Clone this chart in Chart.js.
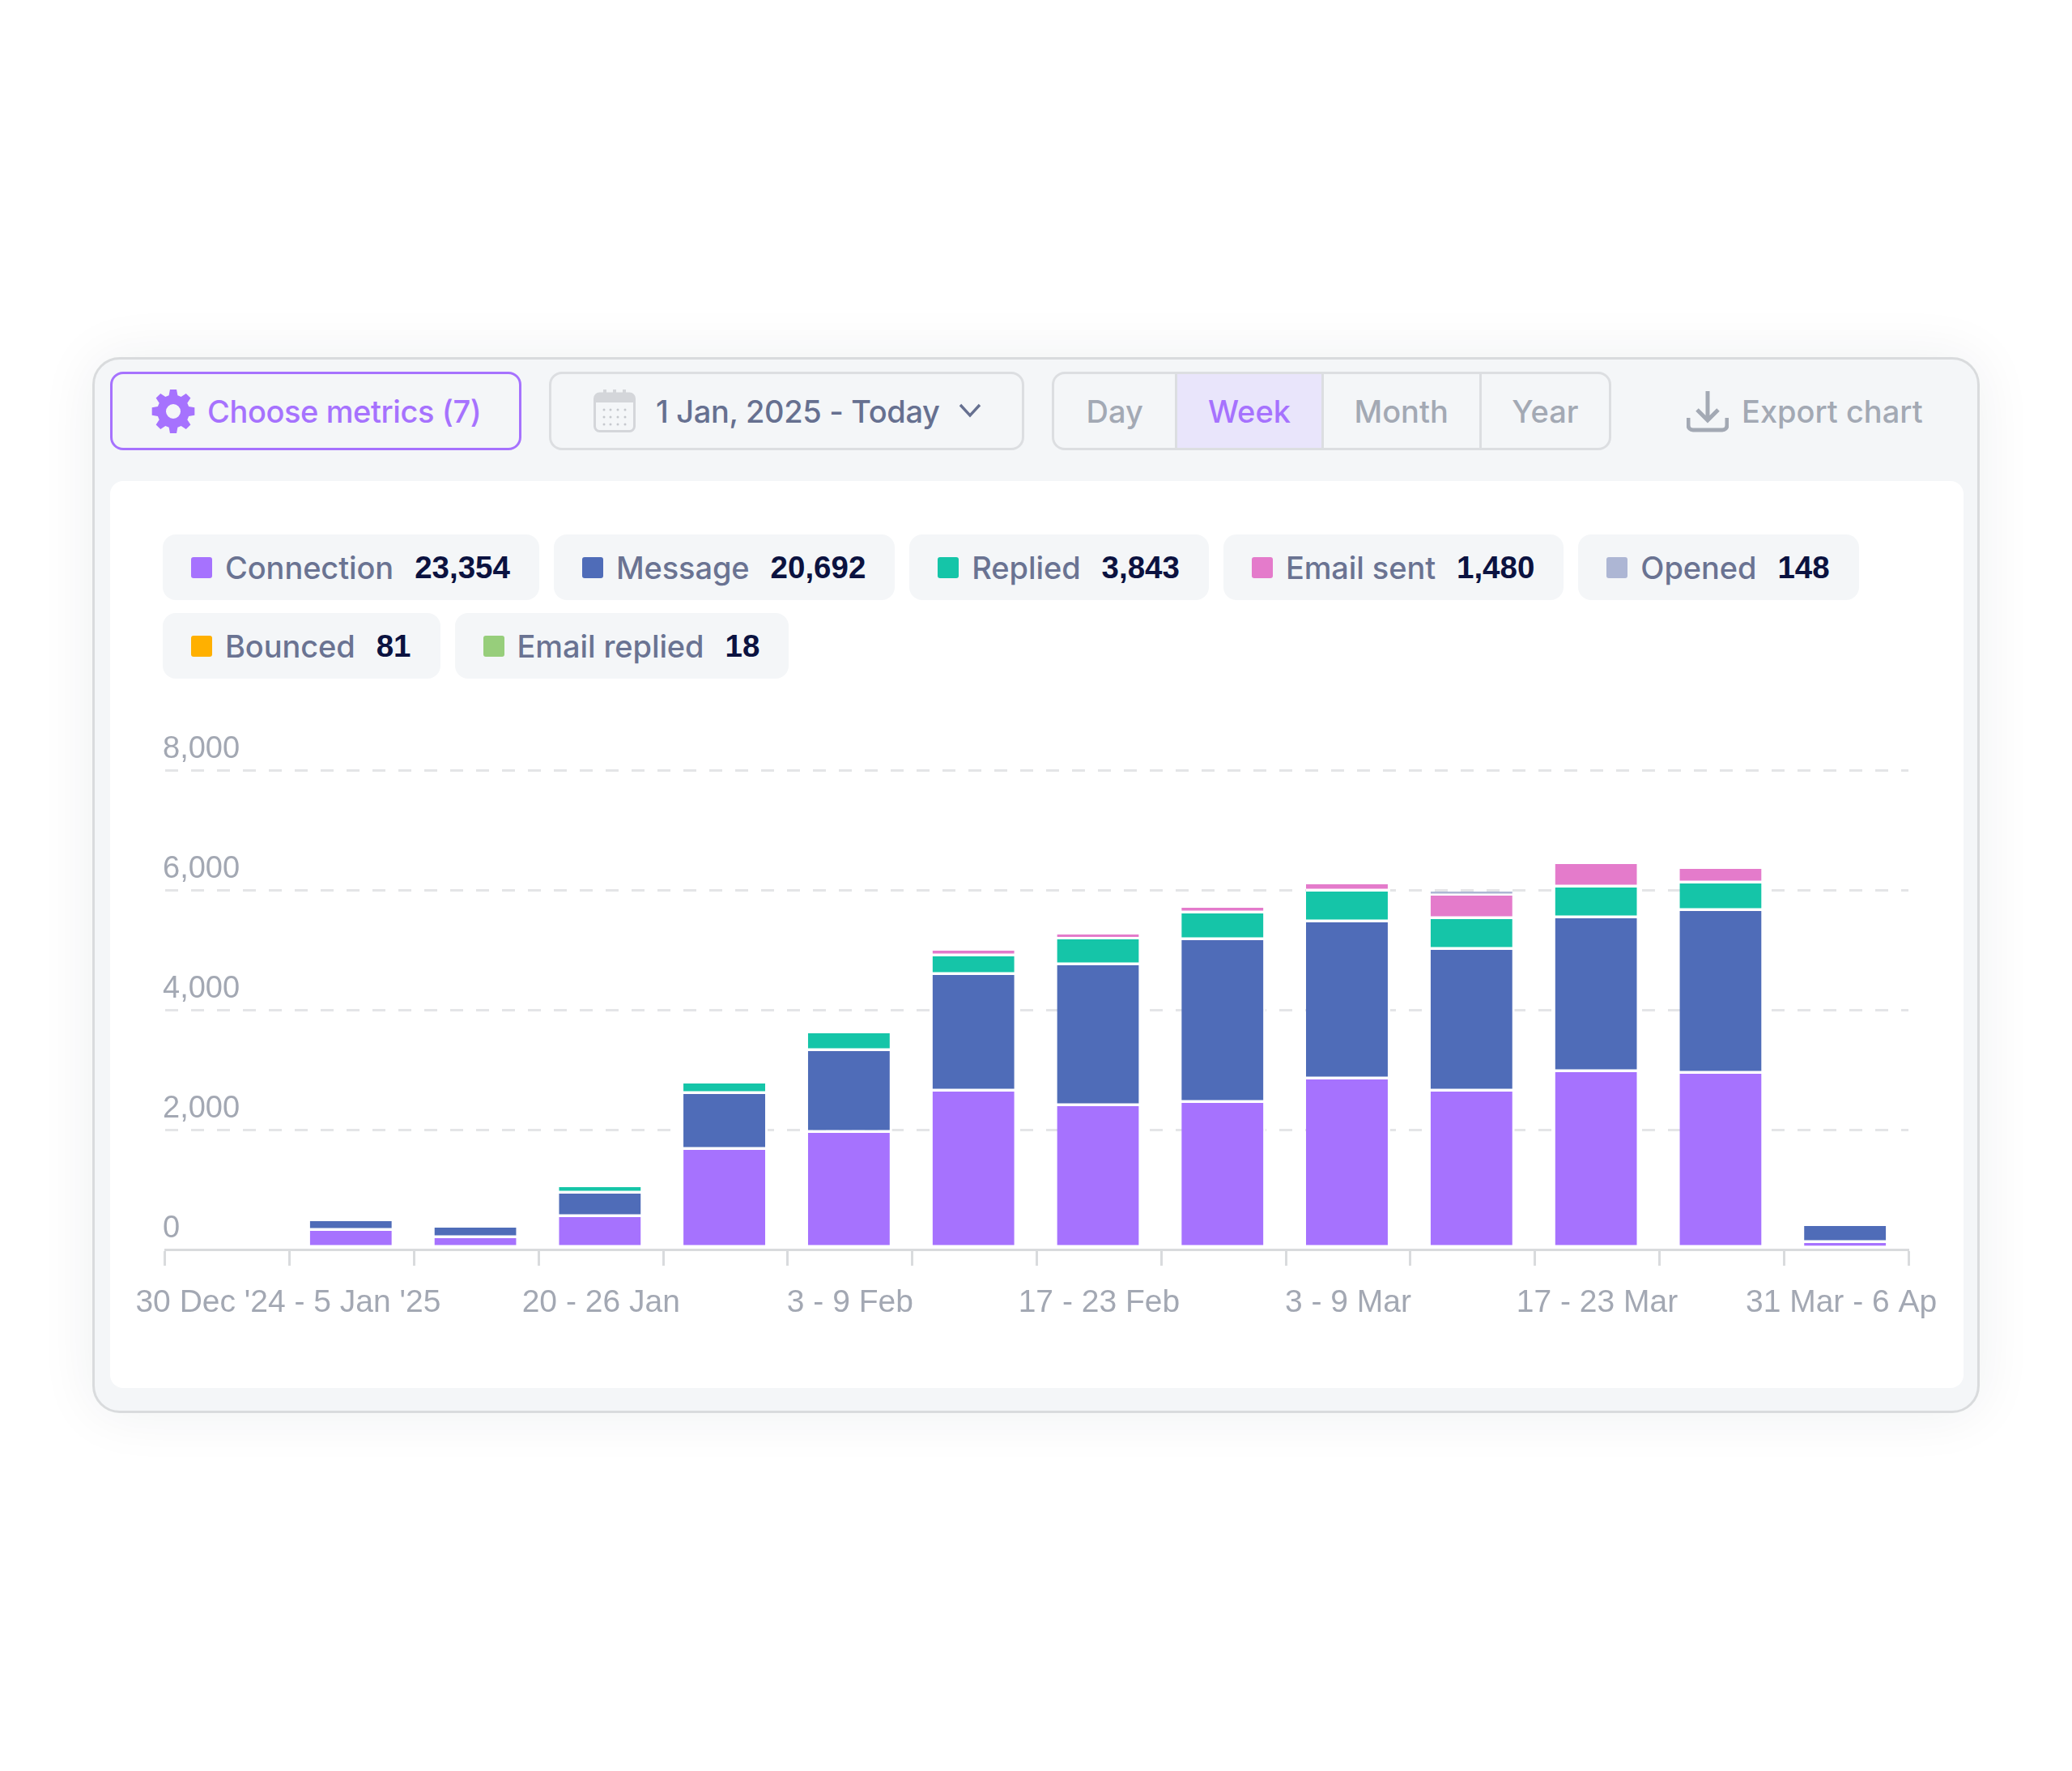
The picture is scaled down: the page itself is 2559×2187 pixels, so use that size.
<!DOCTYPE html>
<html>
<head>
<meta charset="utf-8">
<title>Campaign metrics</title>
<script src="https://cdn.jsdelivr.net/npm/chart.js@4"></script>
<style>
  html, body { margin: 0; padding: 0; background: #fff; }
  body { position: relative; width: 2559px; height: 2187px; overflow: hidden; font-family: Inter, sans-serif; }
  .abs { position: absolute; box-sizing: border-box; }
  #card { left: 114px; top: 441px; width: 2331px; height: 1304px; background: #f4f6f8; border: 3px solid #d9dbdd; border-radius: 34px; box-shadow: 0 0 70px rgba(30, 40, 60, .07); }
  #panel { left: 136px; top: 594px; width: 2289px; height: 1120px; background: #fff; border-radius: 16px; }
  .btn { top: 459px; height: 97px; border: 3px solid #dcdee1; border-radius: 16px; display: flex; align-items: center; font-size: 38px; font-weight: 500; white-space: nowrap; }
  #metrics { left: 136px; width: 508px; border-color: #a672fe; color: #a672fe; padding-left: 117px; letter-spacing: -0.4px; }
  #range { left: 678px; width: 587px; color: #667090; padding-left: 129px; letter-spacing: -0.35px; }
  #seg { left: 1299px; width: 691px; padding: 0; color: #a3a9b4; overflow: hidden; }
  #seg div { height: 100%; display: flex; align-items: center; justify-content: center; box-sizing: border-box; }
  #seg div + div { border-left: 3px solid #dcdee1; }
  #seg .on { background: #e9e5fb; color: #a672fe; }
  #export { left: 2151px; top: 459px; height: 97px; display: flex; align-items: center; font-size: 38px; font-weight: 500; color: #a3a9b4; white-space: nowrap; }
  #chips { left: 201px; top: 660px; width: 2150px; display: flex; flex-wrap: wrap; gap: 16px 18px; }
  .chip { height: 81px; padding: 0 36px 0 35px; background: #f4f6f8; border-radius: 16px; display: flex; align-items: center; font-size: 38px; font-weight: 500; color: #6a7392; white-space: nowrap; letter-spacing: -0.1px; }
  .chip i { width: 26px; height: 26px; margin-right: 16px; border-radius: 3px; display: block; }
  .chip b { margin-left: 26px; font-family: 'Liberation Sans', sans-serif; font-size: 38.5px; font-weight: 700; color: #0b1240; letter-spacing: 0; }
  canvas { position: absolute; left: 137px; top: 860px; }
</style>
</head>
<body>
<div id="card" class="abs"></div>
<div id="panel" class="abs"></div>

<div id="metrics" class="abs btn">Choose metrics (7)</div>
<svg class="abs" style="left:187px;top:481px" width="54" height="54" viewBox="0 0 24 24"><path fill="#a672fe" fill-rule="evenodd" d="M10.2 0h3.6l.6 3.2 1.9.8 2.7-1.8 2.5 2.5-1.8 2.7.8 1.9 3.2.6v4.2l-3.2.6-.8 1.9 1.8 2.7-2.5 2.5-2.7-1.8-1.9.8-.6 3.2h-3.6l-.6-3.2-1.9-.8-2.7 1.8-2.5-2.5 1.8-2.7-.8-1.9-3.2-.6V9.9l3.2-.6.8-1.9-1.8-2.7 2.5-2.5 2.7 1.8 1.9-.8zM12 8a4 4 0 1 0 0 8 4 4 0 0 0 0-8z"/></svg>

<div id="range" class="abs btn">1 Jan, 2025 - Today</div>
<svg class="abs" style="left:733px;top:480px" width="52" height="54" viewBox="0 0 52 54"><rect x="1.5" y="6" width="49" height="46.5" rx="6" fill="#f4f6f8" stroke="#d4d6da" stroke-width="3"/><path d="M2 12a6 6 0 0 1 6-6h36a6 6 0 0 1 6 6v5H2z" fill="#d4d6da"/><rect x="12" y="1" width="4" height="9" fill="#d4d6da"/><rect x="24" y="1" width="4" height="9" fill="#d4d6da"/><rect x="36" y="1" width="4" height="9" fill="#d4d6da"/><g fill="#c6c9ce"><circle cx="13" cy="26" r="1.5"/><circle cx="21" cy="26" r="1.5"/><circle cx="30" cy="26" r="1.5"/><circle cx="39" cy="26" r="1.5"/><circle cx="13" cy="35" r="1.5"/><circle cx="21" cy="35" r="1.5"/><circle cx="30" cy="35" r="1.5"/><circle cx="39" cy="35" r="1.5"/><circle cx="13" cy="44" r="1.5"/><circle cx="21" cy="44" r="1.5"/><circle cx="30" cy="44" r="1.5"/><circle cx="39" cy="44" r="1.5"/></g></svg>
<svg class="abs" style="left:1184px;top:496px" width="28" height="22" viewBox="0 0 28 22"><path d="M2 4l12 13L26 4" fill="none" stroke="#667090" stroke-width="3.4"/></svg>

<div id="seg" class="abs btn">
  <div style="width:150px">Day</div>
  <div class="on" style="width:181px">Week</div>
  <div style="width:196px">Month</div>
  <div style="width:161px">Year</div>
</div>

<svg class="abs" style="left:2083px;top:482px" width="52" height="52" viewBox="0 0 52 52"><path d="M26 1v35M13 24l13 13 13-13" fill="none" stroke="#a3a9b4" stroke-width="5"/><path d="M2 34v9a6 6 0 0 0 6 6h36a6 6 0 0 0 6-6v-9" fill="none" stroke="#a3a9b4" stroke-width="5"/></svg>
<div id="export" class="abs">Export chart</div>

<div id="chips" class="abs"></div>

<canvas id="chart" width="2287" height="854"></canvas>

<script>
const weeks = ["30 Dec '24 - 5 Jan '25", '6 - 12 Jan', '13 - 19 Jan', '20 - 26 Jan', '27 Jan - 2 Feb', '3 - 9 Feb', '10 - 16 Feb', '17 - 23 Feb', '24 Feb - 2 Mar', '3 - 9 Mar', '10 - 16 Mar', '17 - 23 Mar', '24 - 30 Mar', '31 Mar - 6 Apr'];
const tickLabels = ["30 Dec '24 - 5 Jan '25", '', '', '20 - 26 Jan', '', '3 - 9 Feb', '', '17 - 23 Feb', '', '3 - 9 Mar', '', '17 - 23 Mar', '', '31 Mar - 6 Ap'];

const connection = [0, 311, 189, 541, 1662, 1946, 2635, 2392, 2446, 2838, 2635, 2959, 2932, 108];
const message = [0, 162, 176, 391, 933, 1365, 1946, 2351, 2716, 2621, 2365, 2568, 2717, 284];
const replied = [0, 0, 0, 109, 175, 297, 311, 433, 446, 514, 514, 514, 459, 0];
const emailSent = [0, 0, 0, 0, 0, 0, 94, 81, 95, 122, 391, 391, 243, 0];
const opened = [0, 0, 0, 0, 0, 0, 0, 0, 0, 0, 68, 0, 0, 0];
const bounced = [0, 0, 0, 0, 0, 0, 0, 0, 0, 0, 0, 0, 0, 0];
const emailReplied = [0, 0, 0, 0, 0, 0, 0, 0, 0, 0, 0, 0, 0, 0];

const seriesNames = ['Connection', 'Message', 'Replied', 'Email sent', 'Opened', 'Bounced', 'Email replied'];
const seriesTotals = ['23,354', '20,692', '3,843', '1,480', '148', '81', '18'];
const seriesColors = ['#a672fe', '#4f6cb8', '#15c5a8', '#e47bcb', '#adb6d4', '#ffb000', '#97ce7b'];
const seriesValues = [connection, message, replied, emailSent, opened, bounced, emailReplied];

const yTicks = [0, 2000, 4000, 6000, 8000];

// legend chips above the chart
const chips = document.getElementById('chips');
seriesNames.forEach((name, i) => {
  const chip = document.createElement('div');
  chip.className = 'chip';
  const swatch = document.createElement('i');
  swatch.style.background = seriesColors[i];
  const value = document.createElement('b');
  value.textContent = seriesTotals[i];
  chip.append(swatch, name, value);
  chips.appendChild(chip);
});

// first and last tick labels sit off their bar centre in the original
const shiftLabels = {
  id: 'shiftLabels',
  beforeDraw(chart) {
    const items = chart.scales.x.getLabelItems();
    const first = items.find((item) => item.label === tickLabels[0]);
    const last = items.find((item) => item.label === tickLabels[13]);
    if (first && !first.shifted) { first.options.translation[0] += 75; first.shifted = true; }
    if (last && !last.shifted) { last.options.translation[0] -= 6; last.shifted = true; }
  },
};

const datasets = seriesNames.map((name, i) => ({
  label: name,
  data: seriesValues[i],
  backgroundColor: seriesColors[i],
  borderColor: '#ffffff',
  borderSkipped: false,
  borderWidth: { top: 0, left: 0, right: 3, bottom: i === 0 ? 4 : 3.5 },
  barPercentage: 0.676,
  categoryPercentage: 1,
}));

new Chart(document.getElementById('chart'), {
  type: 'bar',
  data: { labels: weeks, datasets },
  plugins: [shiftLabels],
  options: {
    responsive: false,
    animation: false,
    devicePixelRatio: 1,
    layout: { padding: { left: 67, right: 67, top: 91, bottom: 71 } },
    plugins: { legend: { display: false }, tooltip: { enabled: false } },
    scales: {
      x: {
        stacked: true,
        afterFit: (scale) => { scale.height = 100; scale.paddingLeft = 0; scale.paddingRight = 0; },
        border: { color: '#d9dbdd', width: 3 },
        grid: { offset: true, drawOnChartArea: false, drawTicks: true, tickLength: 20, tickWidth: 3, tickColor: '#d9dbdd' },
        ticks: {
          autoSkip: false,
          maxRotation: 0,
          minRotation: 0,
          padding: 23,
          color: '#a3a8b3',
          font: { family: 'Liberation Sans', size: 39 },
          callback: (value, index) => tickLabels[index],
        },
      },
      y: {
        stacked: true,
        min: 0,
        max: 8000,
        afterFit: (scale) => { scale.width = 0; },
        afterBuildTicks: (scale) => { scale.ticks = yTicks.map((value) => ({ value })); },
        border: { display: false, dash: [16, 16] },
        grid: {
          drawTicks: false,
          lineWidth: 3,
          color: (ctx) => (ctx.tick && ctx.tick.value === 0 ? 'rgba(0,0,0,0)' : '#e4e5e7'),
        },
        ticks: {
          mirror: true,
          padding: -3,
          labelOffset: -25,
          color: '#a3a8b3',
          font: { family: 'Liberation Sans', size: 38 },
          callback: (value) => value.toLocaleString('en-US'),
        },
      },
    },
  },
});
</script>
</body>
</html>
